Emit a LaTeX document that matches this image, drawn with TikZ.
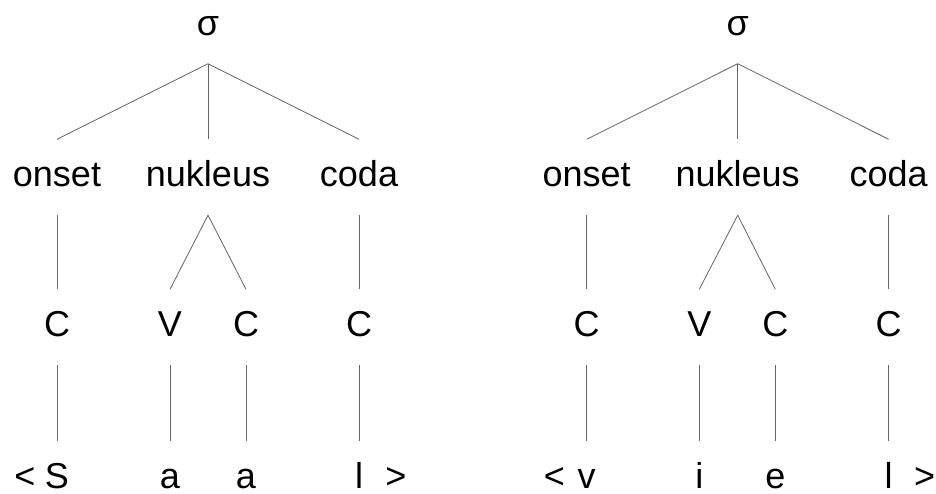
\documentclass[tikz,border=0pt]{standalone}
\usepackage{fontspec}
\setmainfont{Liberation Sans}
\begin{document}
\begin{tikzpicture}[x=1pt,y=-1pt,
  lbl/.style={anchor=base, inner sep=0pt, text height=47pt, text depth=28.5pt,
              font=\fontsize{36}{43}\selectfont},
  rootlbl/.style={lbl, text height=26pt},
  leaflbl/.style={lbl, text depth=2pt},
  branch/.style={draw=black!60, line width=0.8pt}]
\useasboundingbox[fill=white] (0,0) rectangle (936,493);

% first syllable
\node[rootlbl] (s1)   at (208,35)    {σ};
\node[lbl] (on1)  at (57,186.5)  {onset};
\node[lbl] (nu1)  at (208,186.5) {nukleus};
\node[lbl] (co1)  at (359,186.5) {coda};
\node[lbl] (c1a)  at (57,336.5)  {C};
\node[lbl] (v1)   at (170,336.5) {V};
\node[lbl] (c1b)  at (246,336.5) {C};
\node[lbl] (c1c)  at (359,336.5) {C};
\node[leaflbl] (lt1)  at (25,488)    {<};
\node[leaflbl] (p1a)  at (57,488)    {S};
\node[leaflbl] (p1b)  at (170,488)   {a};
\node[leaflbl] (p1c)  at (246,488)   {a};
\node[leaflbl] (p1d)  at (359,488)   {l};
\node[leaflbl] (gt1)  at (396,488)   {>};

\draw[branch] (s1.south) -- (on1.north);
\draw[branch] (s1.south) -- (nu1.north);
\draw[branch] (s1.south) -- (co1.north);
\draw[branch] (on1.south) -- (c1a.north);
\draw[branch] (nu1.south) -- (v1.north);
\draw[branch] (nu1.south) -- (c1b.north);
\draw[branch] (co1.south) -- (c1c.north);
\draw[branch] (c1a.south) -- (p1a.north);
\draw[branch] (v1.south) -- (p1b.north);
\draw[branch] (c1b.south) -- (p1c.north);
\draw[branch] (c1c.south) -- (p1d.north);

% second syllable
\node[rootlbl] (s2)   at (737.7,35)    {σ};
\node[lbl] (on2)  at (586.7,186.5) {onset};
\node[lbl] (nu2)  at (737.7,186.5) {nukleus};
\node[lbl] (co2)  at (888.7,186.5) {coda};
\node[lbl] (c2a)  at (586.7,336.5) {C};
\node[lbl] (v2)   at (699.3,336.5) {V};
\node[lbl] (c2b)  at (775.3,336.5) {C};
\node[lbl] (c2c)  at (888.7,336.5) {C};
\node[leaflbl] (lt2)  at (554.5,488)   {<};
\node[leaflbl] (p2a)  at (586.7,488)   {v};
\node[leaflbl] (p2b)  at (699.3,488)   {i};
\node[leaflbl] (p2c)  at (775.3,488)   {e};
\node[leaflbl] (p2d)  at (888.7,488)   {l};
\node[leaflbl] (gt2)  at (924.5,488)   {>};

\draw[branch] (s2.south) -- (on2.north);
\draw[branch] (s2.south) -- (nu2.north);
\draw[branch] (s2.south) -- (co2.north);
\draw[branch] (on2.south) -- (c2a.north);
\draw[branch] (nu2.south) -- (v2.north);
\draw[branch] (nu2.south) -- (c2b.north);
\draw[branch] (co2.south) -- (c2c.north);
\draw[branch] (c2a.south) -- (p2a.north);
\draw[branch] (v2.south) -- (p2b.north);
\draw[branch] (c2b.south) -- (p2c.north);
\draw[branch] (c2c.south) -- (p2d.north);
\end{tikzpicture}
\end{document}
